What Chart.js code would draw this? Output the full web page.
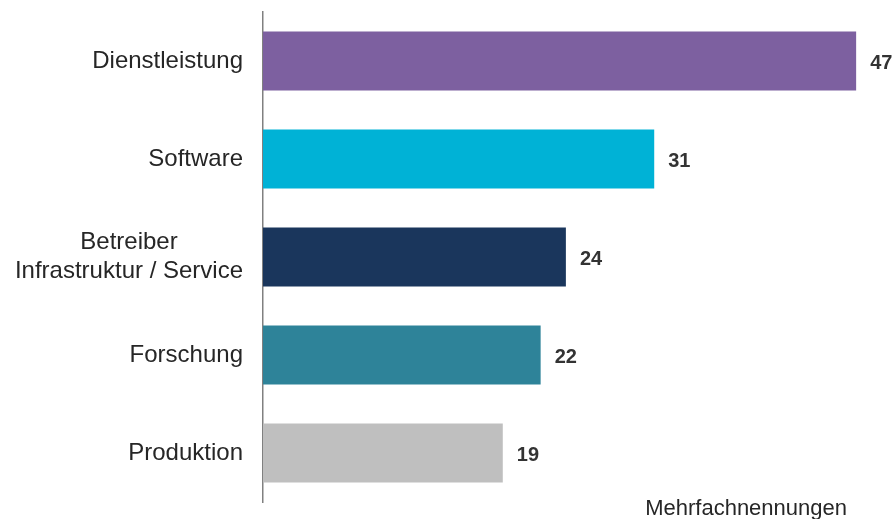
<!DOCTYPE html>
<html>
<head>
<meta charset="utf-8">
<script src="https://cdn.jsdelivr.net/npm/chart.js@4"></script>
<style>
  html, body { margin: 0; padding: 0; background: #ffffff; }
  #wrap { width: 896px; height: 519px; }
</style>
</head>
<body>
<div id="wrap"><canvas id="chart" width="896" height="519"></canvas></div>
<script>
// Categories (multi-line entries are stacked lines of one label)
const categories = [
  ['Dienstleistung'],
  ['Software'],
  ['Betreiber', 'Infrastruktur / Service'],
  ['Forschung'],
  ['Produktion']
];
// Number of mentions per category
const values = [47, 31, 24, 22, 19];
// One colour per bar
const barColors = ['#7D60A0', '#00B2D6', '#1A365C', '#2E8399', '#BFBFBF'];
// Footnote under the bars
const noteText = 'Mehrfachnennungen';
// Value axis range
const valueMin = 0;
const valueMax = 50;

const FONT = '"Liberation Sans", Arial, sans-serif';

// Draws category names, value labels and the footnote
const annotate = {
  id: 'annotate',
  afterDatasetsDraw(chart) {
    const { ctx, chartArea, scales: { y } } = chart;
    const meta = chart.getDatasetMeta(0);
    ctx.save();

    // value at the end of each bar
    ctx.font = 'bold 20px ' + FONT;
    ctx.fillStyle = '#333333';
    ctx.textAlign = 'left';
    ctx.textBaseline = 'middle';
    meta.data.forEach((bar, i) => {
      ctx.fillText(String(values[i]), bar.x + 14, bar.y + 2);
    });

    // category labels, right-aligned block, lines centred within block
    ctx.font = '24px ' + FONT;
    ctx.fillStyle = '#262626';
    ctx.textAlign = 'center';
    const rightEdge = chartArea.left - 20;
    const lineHeight = 29;
    categories.forEach((lines, i) => {
      const cy = y.getPixelForValue(i);
      const w = Math.max(...lines.map(l => ctx.measureText(l).width));
      const cx = rightEdge - w / 2;
      lines.forEach((l, k) => {
        ctx.fillText(l, cx, cy + (k - (lines.length - 1) / 2) * lineHeight);
      });
    });

    // footnote
    ctx.font = '22px ' + FONT;
    ctx.fillStyle = '#262626';
    ctx.textAlign = 'right';
    ctx.fillText(noteText, chartArea.right - 47, chartArea.bottom + 7);

    ctx.restore();
  }
};

new Chart(document.getElementById('chart'), {
  type: 'bar',
  data: {
    labels: categories,
    datasets: [{
      data: values,
      backgroundColor: barColors,
      borderWidth: 0,
      barPercentage: 0.6,
      categoryPercentage: 1
    }]
  },
  options: {
    indexAxis: 'y',
    responsive: false,
    devicePixelRatio: 1,
    animation: false,
    layout: { padding: { top: 12, bottom: 17, left: 0, right: 2 } },
    plugins: {
      legend: { display: false },
      tooltip: { enabled: false }
    },
    scales: {
      x: {
        display: false,
        min: valueMin,
        max: valueMax
      },
      y: {
        grid: { display: false, drawTicks: false },
        border: { display: true, color: '#808080', width: 1.5 },
        ticks: { display: false },
        afterFit(scale) { scale.width = 263; }
      }
    }
  },
  plugins: [annotate]
});
</script>
</body>
</html>
